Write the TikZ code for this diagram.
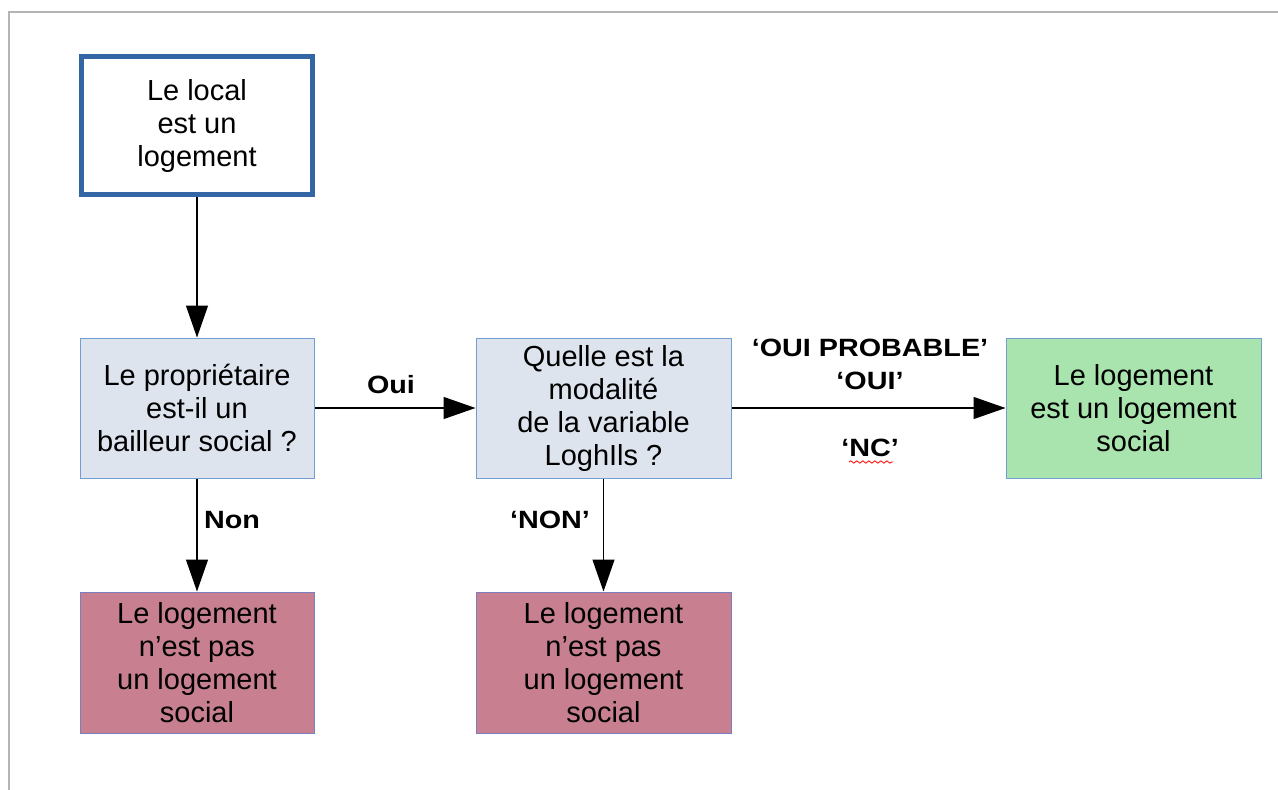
\documentclass[tikz,border=0pt]{standalone}
\usepackage{fontspec}
\setmainfont{Liberation Sans}
\newfontfamily\lblfont[FakeStretch=1.15]{Liberation Sans Bold}
\usetikzlibrary{arrows.meta,decorations.pathmorphing}
\definecolor{topblue}{HTML}{3465A4}
\definecolor{qfill}{HTML}{DEE4EE}
\definecolor{qborder}{HTML}{729FCF}
\definecolor{greenfill}{HTML}{A9E4AF}
\definecolor{redfill}{HTML}{C88090}
\definecolor{redborder}{HTML}{7A7FBF}
\definecolor{framegray}{HTML}{B4B4B4}
\tikzset{
  box/.style={rectangle, align=center, inner sep=0pt,
    minimum width=234, minimum height=140,
    font=\fontsize{29}{33}\selectfont},
  qbox/.style={box, draw=qborder, line width=1pt, fill=qfill},
  wbox/.style={box, minimum width=255},
  arr/.style={-{Triangle[length=32pt,width=22pt]}, line width=1.3pt, black},
  lbl/.style={font=\lblfont\fontsize{25}{33}\selectfont, inner sep=0pt},
}
\begin{document}
\begin{tikzpicture}[x=1pt,y=-1pt]
\useasboundingbox (0,0) rectangle (1278,790);
\draw[framegray, line width=2pt] (9,790) -- (9,12) -- (1278,12);

\node[box, draw=topblue, line width=5pt, fill=white, minimum width=231, minimum height=138] (top) at (197,125.5) {Le local\\est un\\logement};
\node[qbox] (q1) at (197,408) {Le propriétaire\\est-il un\\bailleur social ?};
\node[qbox, minimum width=255] (q2) at (603.5,408) {Quelle est la\\modalité\\de la variable\\LoghIls ?};
\node[box, minimum width=255, draw=qborder, line width=1pt, fill=greenfill] (yes) at (1133.5,408) {Le logement\\est un logement\\social};
\node[box, draw=redborder, line width=1pt, fill=redfill, minimum height=141] (no1) at (197,662.5) {Le logement\\n’est pas\\un logement\\social};
\node[box, minimum width=255, draw=redborder, line width=1pt, fill=redfill, minimum height=141] (no2) at (603.5,662.5) {Le logement\\n’est pas\\un logement\\social};

\draw[arr] (top) -- (q1);
\draw[arr] (q1) -- (q2);
\draw[arr] (q2) -- (yes);
\draw[arr] (q1) -- (no1);
\draw[arr] (q2) -- (no2);

\node[lbl] (loui) at (391,385) {Oui};
\node[lbl] (lnon) at (232,520) {Non};
\node[lbl] (lnon2) at (550,520) {‘NON’};
\node[lbl] (lprob) at (870,348) {‘OUI PROBABLE’};
\node[lbl] (loui2) at (870,381) {‘OUI’};
\node[lbl] (lnc) at (870,448) {‘NC’};
\draw[red, line width=0.8pt, decorate, decoration={snake, amplitude=1.2pt, segment length=6pt}] (849,462) -- (893,462);
\end{tikzpicture}
\end{document}
